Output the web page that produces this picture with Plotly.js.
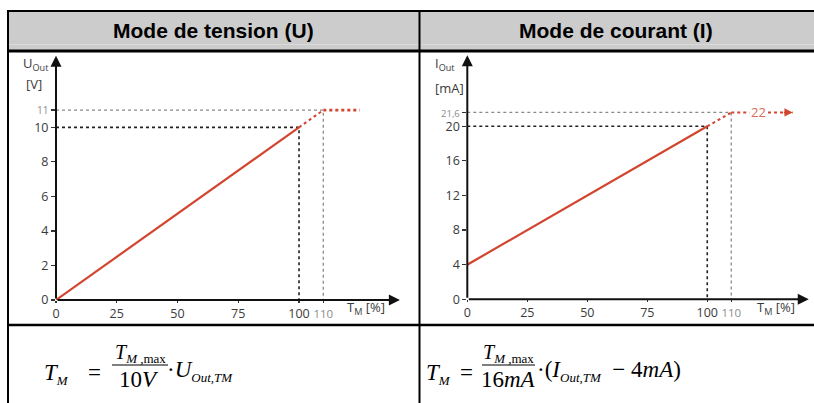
<!DOCTYPE html>
<html><head><meta charset="utf-8">
<script src="https://cdn.plot.ly/plotly-3.0.1.min.js"></script>
<style>html,body{margin:0;padding:0;background:#fff}#c{width:814px;height:403px}</style>
</head><body><div id="c"></div>
<script>
// ---- data ----
const xTickVals = [0, 25, 50, 75, 100, 110];
const xTickText = ['0', '25', '50', '75', '100', '110'];
const uTickVals = [0, 2, 4, 6, 8, 10, 11];
const uTickText = ['0', '2', '4', '6', '8', '10', '11'];
const iTickVals = [0, 4, 8, 12, 16, 20, 21.6];
const iTickText = ['0', '4', '8', '12', '16', '20', '21,6'];

const uLinX = [0, 100], uLinY = [0, 10];
const uSatX = [100, 110], uSatY = [10, 11];
const uFlatX = [110, 125], uFlatY = [11, 11];
const uRefX = [0, 100, 100], uRefY = [10, 10, 0];
const uMaxX = [0, 110, 110], uMaxY = [11, 11, 0];

const iLinX = [0, 100], iLinY = [4, 20];
const iSatX = [100, 110], iSatY = [20, 21.6];
const iFlatX = [110, 117.6], iFlatY = [21.6, 21.6];
const iLimitX = [125.3, 135.6], iLimitY = [21.6, 21.6];
const iLimitLabel = '22', iLimitLabelX = 121.2;
const iRefX = [0, 100, 100], iRefY = [20, 20, 0];
const iMaxX = [0, 110, 110], iMaxY = [21.6, 21.6, 0];

// ---- helpers ----
const W = 814, H = 403;
const px = v => v / W, py = v => 1 - v / H;
const RED = '#d2452f', GREY = '#8a8a8a', TICK = '#3a3a3a';
const SANS2 = 'Open Sans, DejaVu Sans, sans-serif';
const tickFont = {family: SANS2, size: 12.5, color: TICK};
function grayLast(arr, size) {
  return arr.map((t, i) => i === arr.length - 1 ? '<span style="color:#8c8c8c;font-size:' + size + 'px">' + t + '</span>' : t);
}

const traces = [
  {x: uMaxX, y: uMaxY, xaxis: 'x', yaxis: 'y', mode: 'lines', line: {color: GREY, width: 1.3, dash: 'dot'}},
  {x: uRefX, y: uRefY, xaxis: 'x', yaxis: 'y', mode: 'lines', line: {color: '#222', width: 1.6, dash: 'dot'}},
  {x: uLinX, y: uLinY, xaxis: 'x', yaxis: 'y', mode: 'lines', line: {color: RED, width: 2.2}},
  {x: uSatX, y: uSatY, xaxis: 'x', yaxis: 'y', mode: 'lines', line: {color: RED, width: 2, dash: 'dot'}},
  {x: uFlatX, y: uFlatY, xaxis: 'x', yaxis: 'y', mode: 'lines', line: {color: RED, width: 2.6, dash: 'dot'}},

  {x: iMaxX, y: iMaxY, xaxis: 'x2', yaxis: 'y2', mode: 'lines', line: {color: GREY, width: 1.3, dash: 'dot'}},
  {x: iRefX, y: iRefY, xaxis: 'x2', yaxis: 'y2', mode: 'lines', line: {color: '#222', width: 1.6, dash: 'dot'}},
  {x: iLinX, y: iLinY, xaxis: 'x2', yaxis: 'y2', mode: 'lines', line: {color: RED, width: 2.2}},
  {x: iSatX, y: iSatY, xaxis: 'x2', yaxis: 'y2', mode: 'lines', line: {color: RED, width: 2, dash: 'dot'}},
  {x: iFlatX, y: iFlatY, xaxis: 'x2', yaxis: 'y2', mode: 'lines', line: {color: RED, width: 2, dash: 'dot'}},
  {x: iLimitX, y: iLimitY, xaxis: 'x2', yaxis: 'y2', mode: 'lines', line: {color: RED, width: 2, dash: 'dot'}}
];

const axBase = {showgrid: false, zeroline: false, showline: false, ticks: 'outside', ticklen: 4, tickwidth: 1.2,
  tickcolor: '#333', tickfont: tickFont, tickmode: 'array', tickangle: 0, fixedrange: true};

const layout = {
  width: W, height: H, margin: {l: 0, r: 0, t: 0, b: 0}, showlegend: false,
  paper_bgcolor: '#fff', plot_bgcolor: 'rgba(0,0,0,0)',
  xaxis: Object.assign({}, axBase, {domain: [px(56), px(400)], range: [0, 141.56], anchor: 'y',
    tickvals: xTickVals, ticktext: grayLast(xTickText, 11.5), ticklen: 2}),
  yaxis: Object.assign({}, axBase, {domain: [py(300), py(55)], range: [0, 14.19], anchor: 'x',
    tickvals: uTickVals, ticktext: grayLast(uTickText, 10)}),
  xaxis2: Object.assign({}, axBase, {domain: [px(467.3), px(809)], range: [0, 142.4], anchor: 'y2',
    tickvals: xTickVals, ticktext: grayLast(xTickText, 11.5), ticklen: 2}),
  yaxis2: Object.assign({}, axBase, {domain: [py(299.3), py(55)], range: [0, 28.24], anchor: 'x2',
    tickvals: iTickVals, ticktext: grayLast(iTickText, 9.5)}),
  shapes: [
    // header background
    {type: 'rect', xref: 'paper', yref: 'paper', x0: px(8), x1: px(814), y0: py(51), y1: py(11), fillcolor: '#cccccc', line: {width: 0}, layer: 'below'},
    {type: 'line', xref: 'paper', yref: 'paper', x0: px(8), x1: px(814), y0: py(44.5), y1: py(44.5), line: {color: '#dadada', width: 1}},
    // table borders
    {type: 'line', xref: 'paper', yref: 'paper', x0: px(7), x1: px(814), y0: py(11), y1: py(11), line: {color: '#000', width: 2}},
    {type: 'line', xref: 'paper', yref: 'paper', x0: px(7), x1: px(814), y0: py(51), y1: py(51), line: {color: '#000', width: 3}},
    {type: 'line', xref: 'paper', yref: 'paper', x0: px(7), x1: px(814), y0: py(325), y1: py(325), line: {color: '#000', width: 2.5}},
    {type: 'line', xref: 'paper', yref: 'paper', x0: px(8), x1: px(8), y0: py(10), y1: py(403), line: {color: '#000', width: 2}},
    {type: 'line', xref: 'paper', yref: 'paper', x0: px(419.5), x1: px(419.5), y0: py(10), y1: py(403), line: {color: '#000', width: 2}},
    // fraction bars
    {type: 'line', xref: 'paper', yref: 'paper', x0: px(112), x1: px(168), y0: py(365), y1: py(365), line: {color: '#000', width: 1.2}},
    {type: 'line', xref: 'paper', yref: 'paper', x0: px(482), x1: px(535), y0: py(365), y1: py(365), line: {color: '#000', width: 1.2}}
  ],
  annotations: []
};

const A = layout.annotations;
function arrowAxis(xr, yr, x, y, ax, ay) {
  A.push({xref: xr, yref: yr, axref: xr, ayref: yr, x: x, y: y, ax: ax, ay: ay, text: '', showarrow: true,
    arrowhead: 2, arrowsize: 1.1, arrowwidth: 2, arrowcolor: '#111'});
}
// axes with arrows
arrowAxis('x', 'y', 141.5, 0, 0, 0);
arrowAxis('x', 'y', 0, 14.15, 0, 0);
arrowAxis('x2', 'y2', 142.3, 0, 0, 0);
arrowAxis('x2', 'y2', 0, 28.2, 0, 0);
// red arrow at current limit end
A.push({xref: 'x2', yref: 'y2', axref: 'x2', ayref: 'y2', x: iLimitX[1], y: iLimitY[1], ax: iLimitX[0] + 6, ay: iLimitY[1],
  text: '', showarrow: true, arrowhead: 2, arrowsize: 1.1, arrowwidth: 1.5, arrowcolor: RED});
A.push({xref: 'x2', yref: 'y2', x: iLimitLabelX, y: iLimitY[0], text: iLimitLabel, showarrow: false,
  font: {family: SANS2, size: 13, color: '#d86a5a'}});

const sans = 'Liberation Sans, Arial, sans-serif';
const tfont = {family: SANS2, size: 13, color: TICK};
function pt(x, y, text, font, xanchor) {
  A.push({xref: 'paper', yref: 'paper', x: px(x), y: py(y), text: text, showarrow: false,
    xanchor: xanchor || 'center', yanchor: 'middle', font: font});
}
// headers
pt(213.5, 31, '<b>Mode de tension (U)</b>', {family: sans, size: 21, color: '#000'});
pt(616, 31, '<b>Mode de courant (I)</b>', {family: sans, size: 21, color: '#000'});
// axis labels
pt(36, 64, 'U<sub>Out</sub>', {family: SANS2, size: 13, color: TICK});
pt(34, 84, '[V]', tfont);
pt(445, 64, 'I<sub>Out</sub>', {family: SANS2, size: 13, color: TICK});
pt(449, 88, '[mA]', tfont);
pt(366, 308, 'T<sub>M</sub> [%]', tfont);
pt(776, 308, 'T<sub>M</sub> [%]', tfont);

// formulas
const serif = {family: 'Liberation Serif, Times New Roman, serif', size: 23, color: '#000'};
const serifS = {family: 'Liberation Serif, Times New Roman, serif', size: 20, color: '#000'};
const sub = s => '<sub><span style="font-size:13px">' + s + '</span></sub>';
pt(42, 374, '<i>T</i>' + sub('<i>M</i>'), serif, 'left');
pt(86, 372, '=', serif, 'left');
pt(140, 353, '<i>T</i>' + sub('<i>M</i> ,max'), serifS);
pt(139, 379, '10<i>V</i>', serif);
pt(165, 371, '·<i>U</i>' + sub('<i>Out,TM</i>'), serif, 'left');

pt(424, 374, '<i>T</i>' + sub('<i>M</i>'), serif, 'left');
pt(458, 372, '=', serif, 'left');
pt(508, 353, '<i>T</i>' + sub('<i>M</i> ,max'), serifS);
pt(508, 379, '16<i>mA</i>', serif);
pt(535, 371, '·(<i>I</i>' + sub('<i>Out,TM</i>') + '  − 4<i>mA</i>)', serif, 'left');

Plotly.newPlot('c', traces, layout, {displayModeBar: false, staticPlot: true});
</script></body></html>
